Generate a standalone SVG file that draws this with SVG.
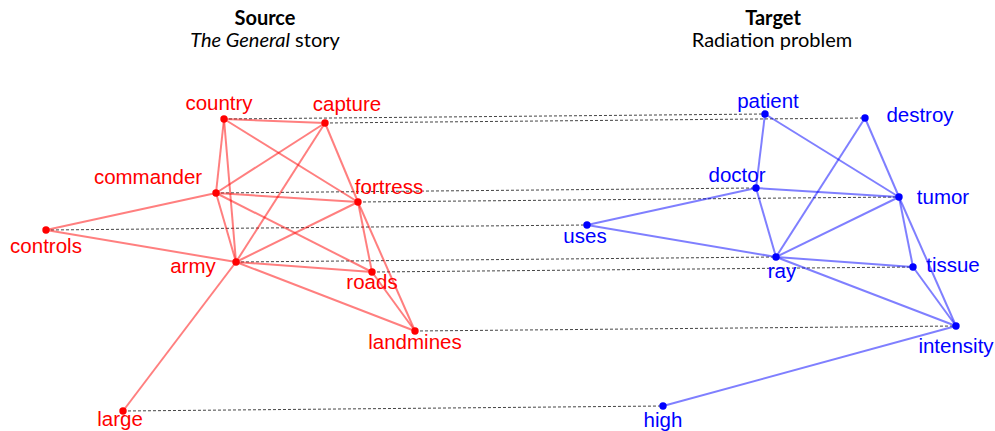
<svg xmlns="http://www.w3.org/2000/svg" width="995" height="431" viewBox="0 0 995 431">
<style>
.title{font-family:Lato,"Open Sans",sans-serif;font-size:20px;fill:#000;text-anchor:middle}
.lbl{font-family:"Liberation Sans",Arial,sans-serif;font-size:20.5px;text-anchor:middle}
.src{fill:#ff0000}
.tgt{fill:#0000ff}
.se{stroke:#ff0000;stroke-opacity:0.5;stroke-width:2;fill:none}
.te{stroke:#0000ff;stroke-opacity:0.5;stroke-width:2;fill:none}
.map{stroke:#444;stroke-width:1;stroke-dasharray:3,2;fill:none}
</style>
<rect width="995" height="431" fill="#fff"/>
<g id="titles">
<text class="title" x="265" y="25" font-weight="bold">Source</text>
<text class="title" x="265" y="47"><tspan font-style="italic">The General</tspan> story</text>
<text class="title" x="773" y="25" font-weight="bold">Target</text>
<text class="title" x="772" y="47">Radiation problem</text>
</g>
<g id="connectors">
<g id="mappings" class="map">
<line x1="224" y1="119" x2="765" y2="114"/>
<line x1="325" y1="123" x2="865" y2="118"/>
<line x1="216" y1="193" x2="756" y2="188"/>
<line x1="358" y1="202" x2="899" y2="197"/>
<line x1="46" y1="230" x2="587" y2="225"/>
<line x1="236" y1="262" x2="776" y2="257"/>
<line x1="372" y1="272" x2="913" y2="267"/>
<line x1="415" y1="331" x2="956" y2="326"/>
<line x1="123" y1="411" x2="663" y2="406"/>
</g>
<g id="source-edges" class="se">
<line x1="224" y1="119" x2="325" y2="123"/>
<line x1="224" y1="119" x2="216" y2="193"/>
<line x1="224" y1="119" x2="236" y2="262"/>
<line x1="224" y1="119" x2="358" y2="202"/>
<line x1="325" y1="123" x2="216" y2="193"/>
<line x1="325" y1="123" x2="236" y2="262"/>
<line x1="325" y1="123" x2="358" y2="202"/>
<line x1="216" y1="193" x2="358" y2="202"/>
<line x1="216" y1="193" x2="46" y2="230"/>
<line x1="216" y1="193" x2="236" y2="262"/>
<line x1="216" y1="193" x2="372" y2="272"/>
<line x1="46" y1="230" x2="236" y2="262"/>
<line x1="236" y1="262" x2="358" y2="202"/>
<line x1="236" y1="262" x2="372" y2="272"/>
<line x1="236" y1="262" x2="415" y2="331"/>
<line x1="236" y1="262" x2="123" y2="411"/>
<line x1="358" y1="202" x2="372" y2="272"/>
<line x1="358" y1="202" x2="415" y2="331"/>
<line x1="372" y1="272" x2="415" y2="331"/>
</g>
<g id="target-edges" class="te">
<line x1="765" y1="114" x2="756" y2="188"/>
<line x1="765" y1="114" x2="899" y2="197"/>
<line x1="865" y1="118" x2="899" y2="197"/>
<line x1="865" y1="118" x2="776" y2="257"/>
<line x1="756" y1="188" x2="899" y2="197"/>
<line x1="756" y1="188" x2="776" y2="257"/>
<line x1="756" y1="188" x2="587" y2="225"/>
<line x1="587" y1="225" x2="776" y2="257"/>
<line x1="776" y1="257" x2="899" y2="197"/>
<line x1="776" y1="257" x2="913" y2="267"/>
<line x1="776" y1="257" x2="956" y2="326"/>
<line x1="899" y1="197" x2="913" y2="267"/>
<line x1="899" y1="197" x2="956" y2="326"/>
<line x1="913" y1="267" x2="956" y2="326"/>
<line x1="956" y1="326" x2="663" y2="406"/>
</g>
</g>
<g id="country"><circle class="src" cx="224" cy="119" r="3.7"/><text class="lbl src" x="219" y="110">country</text></g>
<g id="capture"><circle class="src" cx="325" cy="123" r="3.7"/><text class="lbl src" x="347" y="111">capture</text></g>
<g id="commander"><circle class="src" cx="216" cy="193" r="3.7"/><text class="lbl src" x="148" y="184">commander</text></g>
<g id="fortress"><circle class="src" cx="358" cy="202" r="3.7"/><text class="lbl src" x="389" y="194">fortress</text></g>
<g id="controls"><circle class="src" cx="46" cy="230" r="3.7"/><text class="lbl src" x="46" y="253">controls</text></g>
<g id="army"><circle class="src" cx="236" cy="262" r="3.7"/><text class="lbl src" x="193" y="273">army</text></g>
<g id="roads"><circle class="src" cx="372" cy="272" r="3.7"/><text class="lbl src" x="372" y="289">roads</text></g>
<g id="landmines"><circle class="src" cx="415" cy="331" r="3.7"/><text class="lbl src" x="415" y="349">landmines</text></g>
<g id="large"><circle class="src" cx="123" cy="411" r="3.7"/><text class="lbl src" x="120" y="426">large</text></g>
<g id="patient"><circle class="tgt" cx="765" cy="114" r="3.7"/><text class="lbl tgt" x="768" y="108">patient</text></g>
<g id="destroy"><circle class="tgt" cx="865" cy="118" r="3.7"/><text class="lbl tgt" x="920" y="122">destroy</text></g>
<g id="doctor"><circle class="tgt" cx="756" cy="188" r="3.7"/><text class="lbl tgt" x="737" y="182">doctor</text></g>
<g id="tumor"><circle class="tgt" cx="899" cy="197" r="3.7"/><text class="lbl tgt" x="943" y="204">tumor</text></g>
<g id="uses"><circle class="tgt" cx="587" cy="225" r="3.7"/><text class="lbl tgt" x="585" y="243">uses</text></g>
<g id="ray"><circle class="tgt" cx="776" cy="257" r="3.7"/><text class="lbl tgt" x="782" y="278">ray</text></g>
<g id="tissue"><circle class="tgt" cx="913" cy="267" r="3.7"/><text class="lbl tgt" x="953" y="272">tissue</text></g>
<g id="intensity"><circle class="tgt" cx="956" cy="326" r="3.7"/><text class="lbl tgt" x="956" y="353">intensity</text></g>
<g id="high"><circle class="tgt" cx="663" cy="406" r="3.7"/><text class="lbl tgt" x="663" y="427">high</text></g>
</svg>
